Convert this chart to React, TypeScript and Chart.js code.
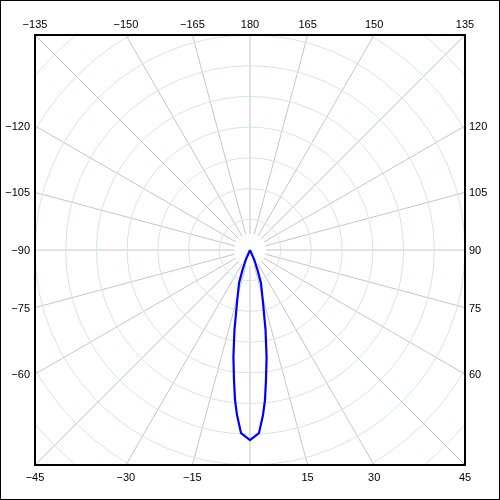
import React, { useEffect, useRef } from "react";
import { Chart, registerables } from "chart.js";

Chart.register(...registerables);

// Beam pattern: angle (degrees, 0 = down, counter-clockwise positive) and radius (ring units)
const beamAngles = [-26, -23.3, -20.6, -18.4, -14.3, -11, -8.8, -7, -5.7, -4.5, -2.8, 0, 2.8, 4.5, 5.7, 7, 8.8, 11, 14.3, 18.4, 20.6, 23.3, 26];
const beamRadius = [0, 0.36, 0.7, 1.13, 1.68, 2.65, 3.53, 4.27, 4.91, 5.39, 5.97, 6.19, 5.97, 5.39, 4.91, 4.27, 3.53, 2.65, 1.68, 1.13, 0.7, 0.36, 0];

// Grid definition
const spokeAngles = [0, 15, 30, 45, 60, 75, 90, 105, 120, 135, 150, 165, 180, 195, 210, 225, 240, 255, 270, 285, 300, 315, 330, 345];
const ringRadii = [1, 2, 3, 4, 5, 6, 7, 8, 9, 10];
const angleTickLabels = [-135, -150, -165, 180, 165, 150, 135, -120, -105, -90, -75, -60, -45, -30, -15, 15, 30, 45, 60, 75, 90, 105, 120];
const R_MAX = 7;
const SPOKE_HOLE = 0.52;

const toRad = (d: number) => (d * Math.PI) / 180;

const polarGrid = {
  id: "polarGrid",
  beforeDatasetsDraw(chart: any) {
    const { ctx, chartArea: a, scales } = chart;
    const x = scales.x, y = scales.y;
    const cx = x.getPixelForValue(0), cy = y.getPixelForValue(0);
    const unit = x.getPixelForValue(1) - cx;
    ctx.save();
    ctx.beginPath();
    ctx.rect(a.left, a.top, a.right - a.left, a.bottom - a.top);
    ctx.clip();
    ctx.lineWidth = 1;
    ctx.strokeStyle = "#c6c6c6";
    for (const d of spokeAngles) {
      const t = toRad(d);
      const dx = Math.sin(t), dy = -Math.cos(t);
      ctx.beginPath();
      ctx.moveTo(x.getPixelForValue(SPOKE_HOLE * dx), y.getPixelForValue(SPOKE_HOLE * dy));
      ctx.lineTo(x.getPixelForValue(12 * dx), y.getPixelForValue(12 * dy));
      ctx.stroke();
    }
    ctx.strokeStyle = "#cfe6ee";
    for (const r of ringRadii) {
      ctx.beginPath();
      ctx.arc(cx, cy, r * unit, 0, Math.PI * 2);
      ctx.stroke();
    }
    ctx.restore();
  },
  afterDraw(chart: any) {
    const { ctx, chartArea: a, scales, width, height } = chart;
    const x = scales.x, y = scales.y;
    ctx.save();
    // frame
    ctx.strokeStyle = "#000";
    ctx.lineWidth = 2;
    ctx.strokeRect(a.left, a.top, a.right - a.left, a.bottom - a.top);
    // outer border
    ctx.lineWidth = 1;
    ctx.strokeRect(0.5, 0.5, width - 1, height - 1);
    // labels
    ctx.fillStyle = "#000";
    ctx.font = "11px 'Liberation Sans', Arial, sans-serif";
    for (const ang of angleTickLabels) {
      const t = toRad(ang);
      const dx = Math.sin(t), dy = -Math.cos(t);
      const m = Math.max(Math.abs(dx), Math.abs(dy));
      const px = x.getPixelForValue((R_MAX * dx) / m);
      const py = y.getPixelForValue((R_MAX * dy) / m);
      const txt = ang < 0 ? "\u2212" + Math.abs(ang) : String(ang);
      if (Math.abs(dy) >= Math.abs(dx) - 1e-9) {
        ctx.textAlign = "center";
        ctx.textBaseline = "middle";
        if (dy > 0) ctx.fillText(txt, px, a.top - 10);
        else ctx.fillText(txt, px, a.bottom + 13);
      } else if (dx < 0) {
        ctx.textAlign = "right";
        ctx.textBaseline = "middle";
        ctx.fillText(txt, a.left - 5, py + 1);
      } else {
        ctx.textAlign = "left";
        ctx.textBaseline = "middle";
        ctx.fillText(txt, a.right + 4, py + 1);
      }
    }
    ctx.restore();
  },
};

export default function App() {
  const canvasRef = useRef<HTMLCanvasElement | null>(null);
  useEffect(() => {
    if (!canvasRef.current) return;
    const points = beamAngles.map((d, i) => {
      const t = toRad(d);
      return { x: beamRadius[i] * Math.sin(t), y: -beamRadius[i] * Math.cos(t) };
    });
    const chart = new Chart(canvasRef.current, {
      type: "scatter",
      data: {
        datasets: [
          {
            data: points,
            showLine: true,
            borderColor: "#0000ff",
            backgroundColor: "#0000ff",
            borderWidth: 2.2,
            pointRadius: 0,
            tension: 0,
          },
        ],
      },
      options: {
        animation: false,
        responsive: true,
        maintainAspectRatio: false,
        layout: { padding: { left: 35, right: 35, top: 35, bottom: 35 } },
        plugins: { legend: { display: false }, tooltip: { enabled: false } },
        scales: {
          x: { type: "linear", min: -R_MAX, max: R_MAX, display: false },
          y: { type: "linear", min: -R_MAX, max: R_MAX, display: false },
        },
      },
      plugins: [polarGrid],
    });
    return () => chart.destroy();
  }, []);
  return (
    <div style={{ position: "fixed", left: 0, top: 0, width: 500, height: 500, background: "#fff" }}>
      <canvas ref={canvasRef} />
    </div>
  );
}
